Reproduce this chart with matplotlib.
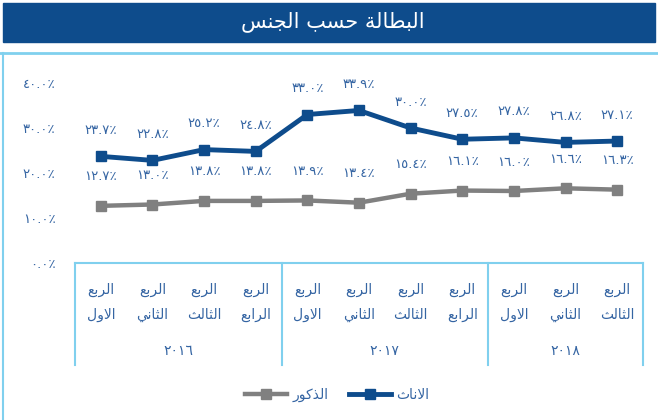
import matplotlib
matplotlib.use("Agg")
import matplotlib.pyplot as plt
from matplotlib.lines import Line2D
from matplotlib.patches import Rectangle

# Data (percent unemployment by gender, quarterly)
years = ["٢٠١٦", "٢٠١٧", "٢٠١٨"]
quarters = ["الاول", "الثاني", "الثالث", "الرابع",
            "الاول", "الثاني", "الثالث", "الرابع",
            "الاول", "الثاني", "الثالث"]
quarters_per_year = [4, 4, 3]
female = [23.7, 22.8, 25.2, 24.8, 33.0, 33.9, 30.0, 27.5, 27.8, 26.8, 27.1]
male = [12.7, 13.0, 13.8, 13.8, 13.9, 13.4, 15.4, 16.1, 16.0, 16.6, 16.3]
yticks = [0, 10, 20, 30, 40]

title = "البطالة حسب الجنس"
quarter_word = "الربع"
female_label = "الاناث"
male_label = "الذكور"

BLUE = "#0e4c8c"
GRAY = "#808080"
TEXT = "#3565a3"
LIGHT = "#80d0ee"

# --- tiny Arabic shaper (matplotlib has no complex text layout) ---
FORMS = {  # isolated, final, initial, medial
    "ا": (0xFE8D, 0xFE8E, None, None), "ب": (0xFE8F, 0xFE90, 0xFE91, 0xFE92),
    "ة": (0xFE93, 0xFE94, None, None), "ث": (0xFE99, 0xFE9A, 0xFE9B, 0xFE9C),
    "ج": (0xFE9D, 0xFE9E, 0xFE9F, 0xFEA0), "ح": (0xFEA1, 0xFEA2, 0xFEA3, 0xFEA4),
    "ذ": (0xFEAB, 0xFEAC, None, None), "ر": (0xFEAD, 0xFEAE, None, None),
    "س": (0xFEB1, 0xFEB2, 0xFEB3, 0xFEB4), "ط": (0xFEC1, 0xFEC2, 0xFEC3, 0xFEC4),
    "ع": (0xFEC9, 0xFECA, 0xFECB, 0xFECC), "ك": (0xFED9, 0xFEDA, 0xFEDB, 0xFEDC),
    "ل": (0xFEDD, 0xFEDE, 0xFEDF, 0xFEE0), "ن": (0xFEE5, 0xFEE6, 0xFEE7, 0xFEE8),
    "و": (0xFEED, 0xFEEE, None, None), "ي": (0xFEF1, 0xFEF2, 0xFEF3, 0xFEF4),
    "\uFEFB": (0xFEFB, 0xFEFC, None, None),
}


def shape(s):
    s = s.replace("لا", "\uFEFB")
    out = []
    for i, c in enumerate(s):
        if c not in FORMS:
            out.append(c)
            continue
        prev = s[i - 1] if i > 0 else ""
        nxt = s[i + 1] if i + 1 < len(s) else ""
        join_prev = prev in FORMS and FORMS[prev][2] is not None
        join_next = nxt in FORMS and FORMS[c][2] is not None
        if join_prev and join_next:
            f = FORMS[c][3]
        elif join_prev:
            f = FORMS[c][1]
        elif join_next:
            f = FORMS[c][2]
        else:
            f = FORMS[c][0]
        out.append(chr(f))
    return "".join(out)[::-1]


def ar_num(v, nd=1):
    txt = f"{v:.{nd}f}"
    return txt.translate(str.maketrans("0123456789", "٠١٢٣٤٥٦٧٨٩")) + "٪"


plt.rcParams["font.family"] = ["DejaVu Sans"]

fig = plt.figure(figsize=(6.58, 4.20), dpi=100)
W, H = 658, 420

# banner and frame
fig.patches.append(Rectangle((3 / W, 1 - 42 / H), 652 / W, 39 / H,
                             transform=fig.transFigure, color=BLUE, zorder=0))
fig.text(333 / W, 1 - 22 / H, shape(title), color="white", fontsize=15,
         ha="center", va="center")
fig.lines.append(Line2D([0, 1], [1 - 53 / H] * 2, transform=fig.transFigure,
                        color=LIGHT, lw=2))
fig.lines.append(Line2D([3 / W] * 2, [0, 1 - 53 / H], transform=fig.transFigure,
                        color=LIGHT, lw=1.5))

ax = fig.add_axes([75 / W, 1 - 263 / H, 568 / W, 180 / H])
x = list(range(len(female)))
ax.plot(x, female, color=BLUE, lw=3.5, marker="s", ms=7.5, label=shape(female_label))
ax.plot(x, male, color=GRAY, lw=3.2, marker="s", ms=7.5, label=shape(male_label))
for xi, v in zip(x, female):
    ax.annotate(ar_num(v), (xi, v), xytext=(0, 26), textcoords="offset pixels",
                ha="center", va="center", color=TEXT, fontsize=9.5)
for xi, v in zip(x, male):
    ax.annotate(ar_num(v), (xi, v), xytext=(0, 29), textcoords="offset pixels",
                ha="center", va="center", color=TEXT, fontsize=9.5)

ax.set_xlim(-0.5, len(female) - 0.5)
ax.set_ylim(0, 40)
ax.set_yticks(yticks)
ax.set_yticklabels([ar_num(t) for t in yticks], color=TEXT, fontsize=9.5)
ax.tick_params(axis="y", length=0, pad=14)
ax.set_xticks([])
for sp in ax.spines.values():
    sp.set_visible(False)

# category box below the axis
box_h = 102 / 180 * 40
ax.plot([-0.5, len(female) - 0.5], [0, 0], color=LIGHT, lw=1.5, clip_on=False)
start = -0.5
for yr, n in zip(years, quarters_per_year):
    ax.plot([start, start], [0, -box_h], color=LIGHT, lw=1.5, clip_on=False)
    ax.text(start + n / 2, -88 / 180 * 40, yr, ha="center", va="center",
            color=TEXT, fontsize=10)
    start += n
ax.plot([start, start], [0, -box_h], color=LIGHT, lw=1.5, clip_on=False)
for xi, q in zip(x, quarters):
    ax.text(xi, -27 / 180 * 40, shape(quarter_word), ha="center", va="center",
            color=TEXT, fontsize=10)
    ax.text(xi, -52 / 180 * 40, shape(q), ha="center", va="center",
            color=TEXT, fontsize=10)

handles, labels = ax.get_legend_handles_labels()
ax.legend(handles[::-1], labels[::-1], loc="center", ncol=2,
          bbox_to_anchor=(337 / W, 1 - 395 / H), bbox_transform=fig.transFigure,
          frameon=False, fontsize=10, labelcolor=TEXT, handlelength=3,
          columnspacing=1.5, handletextpad=0.4)

fig.savefig("out.png", dpi=100)
